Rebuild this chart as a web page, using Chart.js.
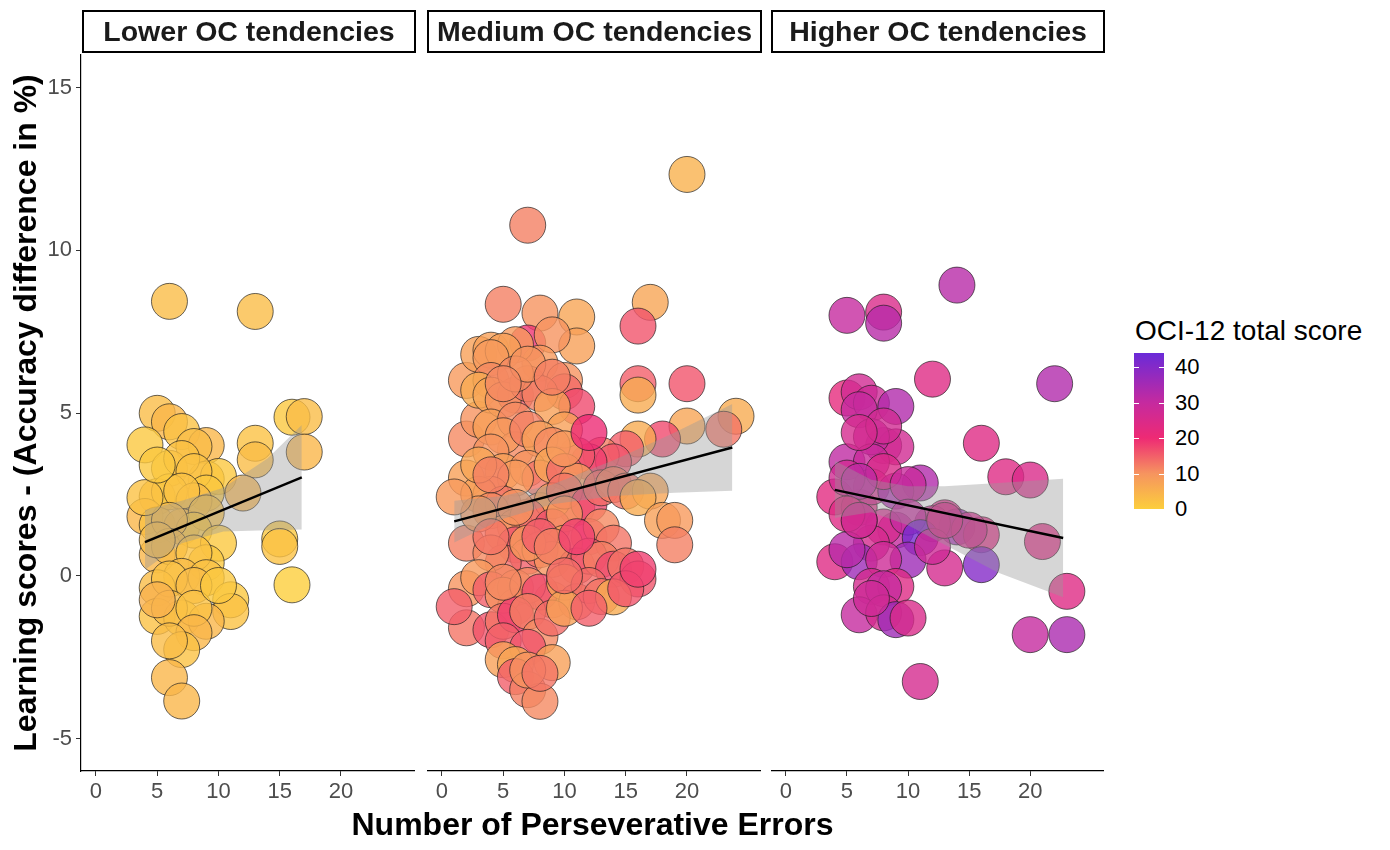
<!DOCTYPE html>
<html>
<head>
<meta charset="utf-8">
<script src="https://cdn.jsdelivr.net/npm/chart.js@4.4.1/dist/chart.umd.min.js"></script>
<style>
body { margin: 0; background: #fff; width: 1390px; height: 850px; position: relative; overflow: hidden; font-family: 'Liberation Sans', Arial, sans-serif; }
canvas { position: absolute; top: 0; }
.strip { position: absolute; top: 10px; height: 43px; border: 2px solid #000; box-sizing: border-box; font-weight: bold; font-size: 28.5px; text-align: center; line-height: 39px; color: #1a1a1a; white-space: nowrap; }
#xtitle { position: absolute; left: 81px; width: 1023px; top: 806px; text-align: center; font-weight: bold; font-size: 32px; color: #000; }
#legtitle { position: absolute; left: 1135px; top: 315px; font-size: 28px; color: #000; white-space: nowrap; }
#legbar { position: absolute; left: 1134px; top: 353px; width: 30px; height: 156px; }
.legtick { position: absolute; width: 5px; height: 1px; background: #fff; }
.leglab { position: absolute; left: 1175px; font-size: 22px; color: #000; transform: translateY(-50%); }
</style>
</head>
<body>
<canvas id="c1" width="415" height="810" style="left:0"></canvas>
<canvas id="c2" width="334" height="810" style="left:427px"></canvas>
<canvas id="c3" width="333" height="810" style="left:771px"></canvas>
<div class="strip" style="left:82px;width:334px">Lower OC tendencies</div>
<div class="strip" style="left:427px;width:335px">Medium OC tendencies</div>
<div class="strip" style="left:771px;width:334px">Higher OC tendencies</div>
<div id="xtitle">Number of Perseverative Errors</div>
<div id="legtitle">OCI-12 total score</div>
<div id="legbar"></div>
<div id="legend"></div>
<script>
const xTicks = [0, 5, 10, 15, 20];
const yTicks = [-5, 0, 5, 10, 15];
const legendTicks = [0, 10, 20, 30, 40];
const scoreMax = 44;

// Lower OC tendencies
const lowX = [6, 13, 5, 6, 7, 4, 9, 8, 13, 13, 16, 17, 17, 6, 9, 10, 7, 8, 5, 6, 9, 12, 8, 7, 4, 5, 7, 9, 8, 6,
  10, 5, 9, 6, 8, 5, 7, 9, 5, 6, 8, 11, 11, 5, 7, 9, 6, 8, 5, 10, 8, 7, 6, 6, 7, 15, 15, 16, 4, 5];
const lowY = [8.43, 8.12, 4.99, 4.73, 4.43, 4.02, 4.0, 3.97, 4.07, 3.56, 4.87, 4.89, 3.8, 3.3, 2.97, 3.05, 3.6, 3.2, 2.43, 2.58,
  2.54, 2.54, 2.3, 2.6, 1.82, 1.56, 1.51, 1.93, 1.4, 1.7, 1.0, 0.64, 0.4, 0.9, 0.7, 1.1, -0.02, -0.06, -0.37, -0.1,
  -0.3, -0.74, -1.1, -1.25, -1.3, -1.4, -1.0, -1.0, -0.74, -0.3, -1.75, -2.27, -2.0, -3.13, -3.85, 1.13, 0.9, -0.28, 2.4, 3.4];
const lowScore = [3, 3, 3, 4, 2, 1, 4, 3, 2, 3, 1, 3, 4, 1, 2, 1, 2, 2, 2, 1, 1, 4, 3, 2, 4, 2, 3, 2, 1, 3,
  1, 4, 1, 3, 2, 3, 3, 2, 3, 2, 3, 1, 2, 2, 1, 4, 3, 2, 5, 1, 4, 2, 3, 4, 4, 1, 2, 0, 2, 1];
const lowFitX = [4, 16.8];
const lowFitY = [1.03, 3.02];
const lowBandX = [4, 7, 10.4, 14, 16.8];
const lowBandLo = [0.18, 1.0, 1.36, 1.4, 1.42];
const lowBandHi = [2.02, 2.3, 2.7, 3.6, 4.63];

// Medium OC tendencies
const medX = [2, 2, 2, 2, 2, 2, 3, 3,
  20, 7, 5, 8, 11, 17, 16, 7, 4, 11, 9, 8, 6, 5, 10, 4, 4, 3, 4, 6, 10, 11, 5, 7, 8, 9, 6, 7, 9,
  16, 16, 20, 24, 20, 23, 18, 16, 15, 13, 14, 12, 11,
  4, 6, 10, 6, 5, 7, 8, 9, 4, 5, 7, 8, 9, 10, 11,
  6, 4, 3, 5, 4, 8, 11, 9, 10, 12, 13, 14, 15, 17, 16,
  6, 7, 5, 3, 9, 10, 12, 13, 18, 19, 19, 14,
  6, 10, 7, 8, 5, 4, 9, 11, 12, 13, 14, 15, 16,
  3, 4, 6, 9, 6, 5, 7, 8, 10, 11, 12, 13, 14, 15, 16,
  4, 5, 6, 7, 8, 9, 10, 5, 7,
  5, 6, 9, 6, 7, 8, 7, 8,
  5, 6, 7, 8, 9, 10, 4, 5, 11, 12, 3, 4, 10, 12, 1, 1];
const medY = [6.0, 4.2, 3.0, 1.0, -0.4, -1.6, 6.8, 4.8,
  12.33, 10.77, 8.34, 8.07, 7.95, 8.4, 7.67, 7.15, 6.93, 7.06, 7.4, 6.53, 7.1, 6.9, 6.0, 6.7, 6.0, 5.7, 5.55, 5.55, 5.65, 5.2, 5.4, 5.9, 5.6, 5.2, 6.2, 6.5, 6.1,
  5.9, 5.55, 5.9, 4.9, 4.6, 4.5, 4.2, 4.2, 3.9, 3.7, 3.5, 3.5, 3.7,
  4.57, 4.78, 4.48, 3.87, 4.3, 4.5, 4.2, 4.0, 3.8, 3.2, 3.3, 3.0, 3.4, 3.2, 2.9,
  3.0, 2.5, 2.5, 2.2, 2.0, 2.0, 2.1, 2.3, 2.6, 2.2, 2.7, 2.8, 2.6, 2.6, 2.4,
  1.5, 1.8, 1.3, 1.9, 1.5, 1.9, 1.2, 1.5, 1.7, 1.7, 0.95, 1.0,
  0.95, 1.0, 0.6, 0.8, 0.4, 0.7, 0.5, 0.3, 0.6, 0.5, 0.2, 0.3, -0.1,
  -0.06, -0.43, -0.37, -0.74, -0.95, -0.6, -0.3, -0.5, -0.2, -0.8, -0.3, -0.64, -0.65, -0.4, 0.2,
  -1.66, -1.4, -1.2, -1.1, -1.87, -1.3, -1.0, -2.0, -2.2,
  -2.58, -2.73, -2.67, -3.1, -3.5, -3.86, -2.9, -3.0,
  5.9, 2.1, 1.0, 1.2, 0.9, 0.0, 1.2, -0.2, 1.2, -1.0, 3.4, 3.1, 3.9, 4.4, 2.42, -0.95];
const medScore = [9, 11, 8, 12, 10, 13, 8, 10,
  5, 12, 12, 10, 7, 7, 16, 19, 8, 8, 10, 9, 9, 8, 10, 9, 11, 6, 7, 15, 14, 17, 10, 13, 12, 8, 11, 10, 12,
  15, 6, 16, 6, 7, 13, 17, 6, 15, 12, 16, 18, 16,
  8, 11, 8, 11, 9, 12, 8, 11, 10, 8, 10, 13, 7, 14, 9,
  9, 10, 8, 13, 11, 11, 15, 8, 13, 17, 14, 12, 13, 7, 6,
  11, 14, 10, 9, 16, 10, 18, 11, 8, 9, 12, 13,
  16, 8, 15, 13, 14, 11, 10, 14, 16, 12, 17, 13, 16,
  9, 15, 12, 8, 15, 10, 11, 17, 7, 11, 14, 13, 6, 16, 18,
  16, 13, 18, 12, 11, 14, 8, 15, 16,
  8, 7, 8, 15, 12, 11, 10, 13,
  11, 10, 9, 15, 12, 14, 13, 11, 18, 15, 7, 12, 9, 20, 9, 15];
const medFitX = [1, 23.7];
const medFitY = [1.67, 3.94];
const medBandX = [1, 5, 9, 14, 19, 23.7];
const medBandLo = [1.02, 1.75, 2.2, 2.45, 2.55, 2.61];
const medBandHi = [2.3, 2.45, 2.8, 3.55, 4.4, 5.28];

// Higher OC tendencies
const highX = [14, 5, 8, 8, 12, 22, 5, 6, 7, 9, 6, 16, 8, 9, 7, 5, 7, 8, 6,
  18, 20, 11, 4, 6, 7, 9, 5, 8, 10, 6,
  13, 14, 16, 21, 9, 12, 8, 7, 10, 6, 5, 11, 15,
  4, 6, 10, 13, 16, 8, 7, 9, 5, 12, 8,
  23, 6, 8, 9, 10, 7, 20, 23, 11, 6, 13];
const highY = [8.93, 8.0, 8.1, 7.76, 6.04, 5.9, 5.46, 5.65, 5.3, 5.2, 5.1, 4.07, 4.0, 3.96, 4.27, 3.5, 3.5, 4.6, 4.4,
  3.04, 2.94, 2.85, 2.42, 2.1, 2.73, 2.6, 3.0, 3.2, 2.8, 2.9,
  1.78, 1.5, 1.26, 1.05, 1.4, 1.6, 1.5, 1.0, 1.8, 1.7, 1.9, 1.17, 1.4,
  0.43, 0.43, 0.48, 0.24, 0.34, 0.5, -0.33, -0.33, 0.8, 0.9, -0.4,
  -0.48, -1.2, -1.14, -1.35, -1.3, -0.7, -1.81, -1.81, -3.25, 1.7, 1.7];
const highScore = [32, 30, 25, 32, 24, 33, 22, 27, 28, 33, 30, 24, 28, 27, 30, 31, 29, 27, 26,
  24, 25, 33, 23, 24, 26, 34, 27, 25, 29, 31,
  25, 35, 24, 24, 30, 27, 26, 26, 30, 28, 24, 42, 26,
  24, 36, 36, 26, 40, 28, 26, 24, 32, 28, 30,
  24, 30, 26, 36, 25, 28, 30, 34, 26, 27, 25];
const highFitX = [4, 22.7];
const highFitY = [2.64, 1.16];
const highBandX = [4, 7, 10, 13, 17.4, 22.7];
const highBandLo = [1.77, 1.95, 1.55, 0.95, 0.09, -0.66];
const highBandHi = [3.53, 2.95, 2.75, 2.75, 2.85, 2.98];

// colour scale
const colourStops = [0, 10, 20, 30, 44];
const colourHex = ['#FCCE3C', '#F6945F', '#EE2A74', '#C52A9F', '#6A2AD8'];

function hexRgb(h) {
  return [parseInt(h.slice(1, 3), 16), parseInt(h.slice(3, 5), 16), parseInt(h.slice(5, 7), 16)];
}
function scoreColour(s, a) {
  let i = 0;
  while (i < colourStops.length - 2 && s > colourStops[i + 1]) i++;
  const t = Math.max(0, Math.min(1, (s - colourStops[i]) / (colourStops[i + 1] - colourStops[i])));
  const c0 = hexRgb(colourHex[i]), c1 = hexRgb(colourHex[i + 1]);
  const c = c0.map((v, k) => Math.round(v + (c1[k] - v) * t));
  return `rgba(${c[0]},${c[1]},${c[2]},${a})`;
}

// legend
const grad = colourStops.map((s, i) => `${colourHex[i]} ${(s / scoreMax * 100).toFixed(1)}%`).join(', ');
document.getElementById('legbar').style.background = `linear-gradient(to top, ${grad})`;
let legHtml = '';
legendTicks.forEach(v => {
  const y = 509 - v / scoreMax * 156;
  legHtml += `<div class="legtick" style="left:1134px;top:${y}px"></div>`;
  legHtml += `<div class="legtick" style="left:1159px;top:${y}px"></div>`;
  legHtml += `<div class="leglab" style="top:${y}px">${v}</div>`;
});
document.getElementById('legend').innerHTML = legHtml;

Chart.defaults.font.family = "'Liberation Sans', Arial, sans-serif";

function toXY(xs, ys) { return xs.map((x, i) => ({ x: x, y: ys[i] })); }

function makePanel(id, xs, ys, scores, fitX, fitY, bandX, bandLo, bandHi, showY) {
  const ctx = document.getElementById(id).getContext('2d');
  new Chart(ctx, {
    type: 'scatter',
    data: {
      datasets: [
        { type: 'line', data: toXY(fitX, fitY), borderColor: '#000', borderWidth: 2.4, pointRadius: 0, fill: false, order: 1 },
        { type: 'line', data: toXY(bandX, bandHi), borderWidth: 0, pointRadius: 0, fill: '+1', backgroundColor: 'rgba(153,153,153,0.4)', order: 2 },
        { type: 'line', data: toXY(bandX, bandLo), borderWidth: 0, pointRadius: 0, fill: false, order: 2 },
        {
          data: toXY(xs, ys),
          pointRadius: 18,
          pointBackgroundColor: scores.map(s => scoreColour(s, 0.8)),
          pointBorderColor: 'rgba(30,30,30,0.85)',
          pointBorderWidth: 0.8,
          order: 3
        }
      ]
    },
    options: {
      responsive: false,
      animation: false,
      layout: { autoPadding: false, padding: { top: 55, left: 0, right: 0, bottom: 0 } },
      plugins: { legend: { display: false }, tooltip: { enabled: false } },
      scales: {
        x: {
          type: 'linear', min: -1.22, max: 26.04,
          afterBuildTicks: s => { s.ticks = xTicks.map(v => ({ value: v })); },
          afterFit: s => { s.height = 39; },
          grid: { display: true, drawOnChartArea: false, drawTicks: true, tickLength: 5, color: '#333' },
          border: { display: true, color: '#000', width: 1.2 },
          ticks: { color: '#4D4D4D', font: { size: 22 }, padding: 3, maxRotation: 0, autoSkip: false }
        },
        y: {
          type: 'linear', min: -6, max: 16, display: showY,
          afterBuildTicks: s => { s.ticks = yTicks.map(v => ({ value: v })); },
          afterFit: s => { s.width = showY ? 81 : 0; },
          grid: { display: true, drawOnChartArea: false, drawTicks: true, tickLength: 5, color: '#333' },
          border: { display: true, color: '#000', width: 1.2 },
          ticks: { color: '#4D4D4D', font: { size: 22 }, padding: 4, autoSkip: false },
          title: {
            display: true, text: 'Learning scores - (Accuracy difference in %)', color: '#000',
            font: { size: 32, weight: 'bold' }, padding: { top: 8, bottom: 0 }
          }
        }
      }
    }
  });
}

makePanel('c1', lowX, lowY, lowScore, lowFitX, lowFitY, lowBandX, lowBandLo, lowBandHi, true);
makePanel('c2', medX, medY, medScore, medFitX, medFitY, medBandX, medBandLo, medBandHi, false);
makePanel('c3', highX, highY, highScore, highFitX, highFitY, highBandX, highBandLo, highBandHi, false);
</script>
</body>
</html>
